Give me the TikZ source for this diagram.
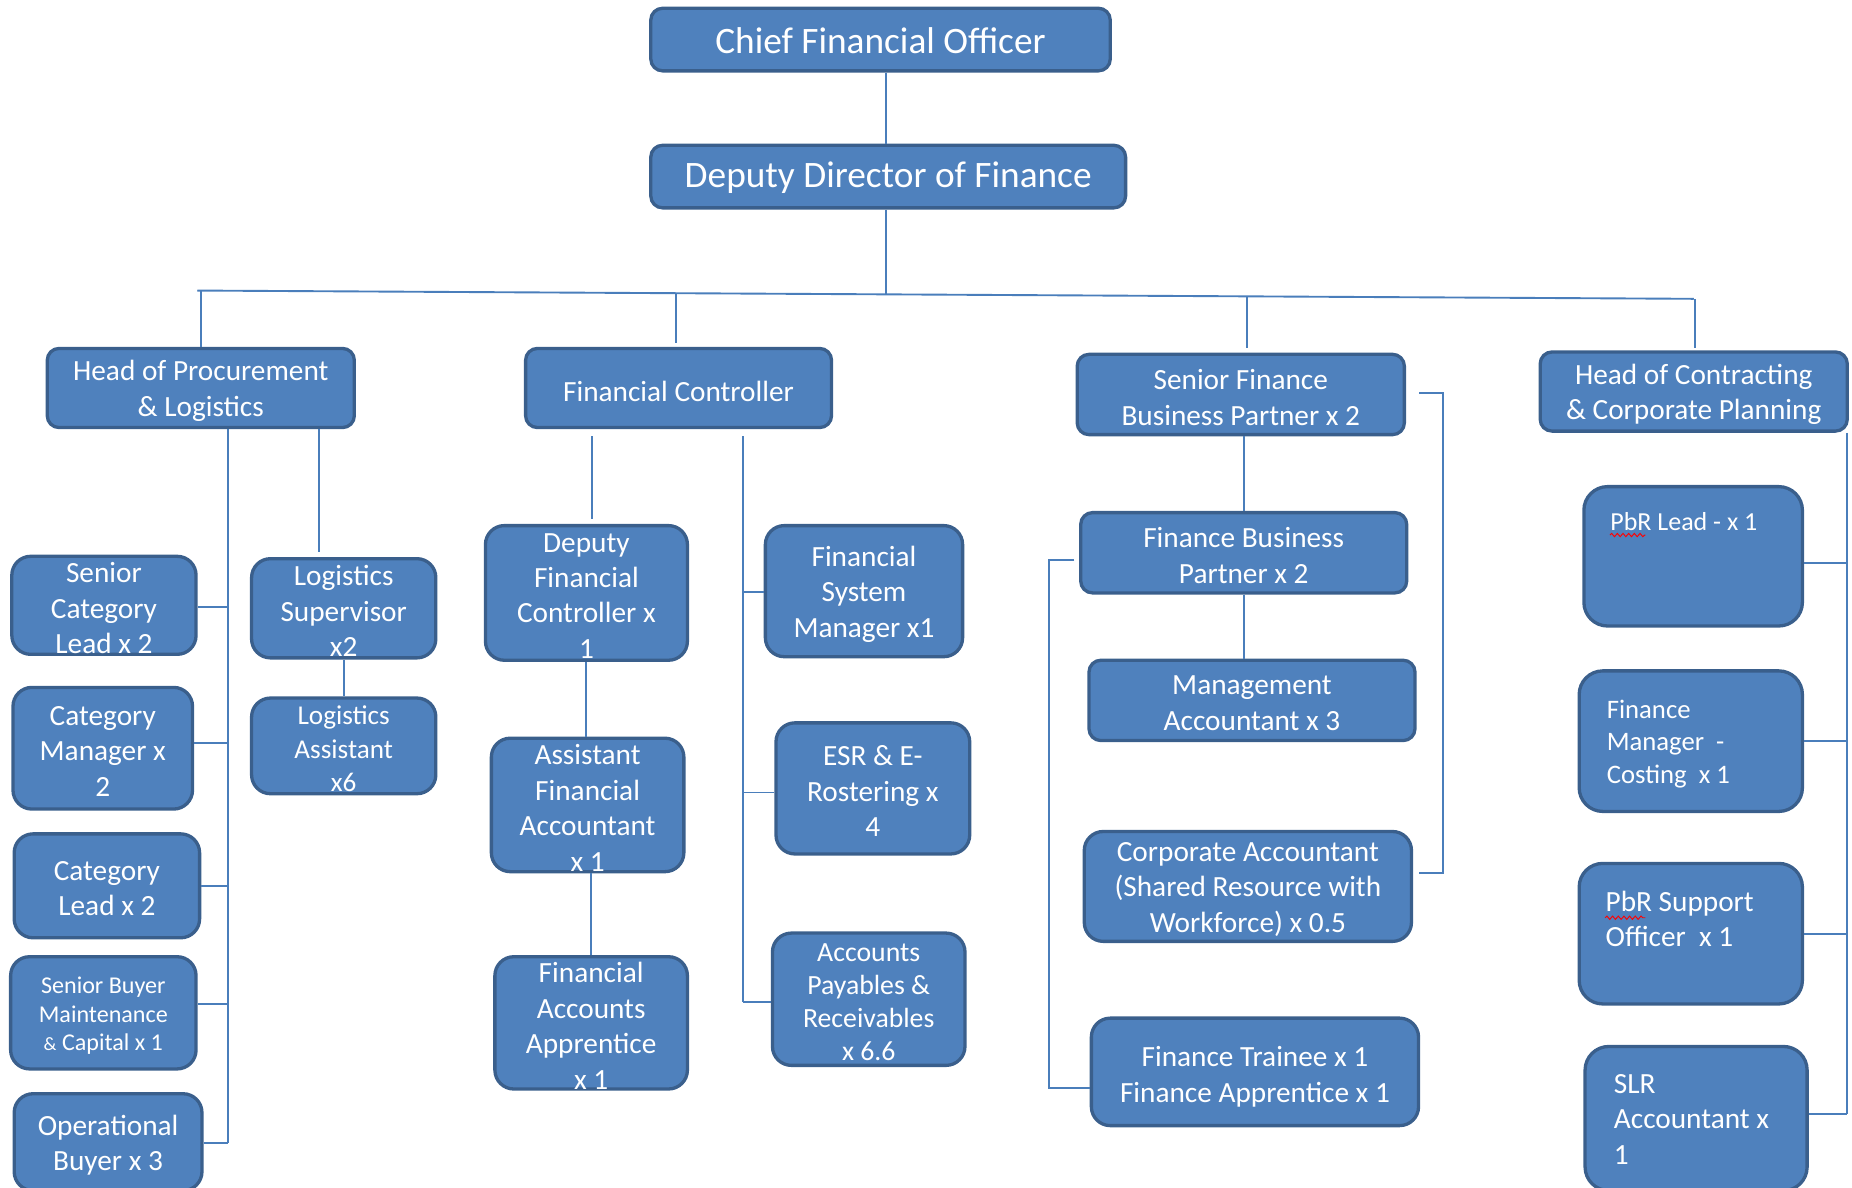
\documentclass[tikz,border=0pt]{standalone}
\usepackage{fontspec}
\setmainfont{Carlito}
\usetikzlibrary{fit,decorations.pathmorphing}
\definecolor{bfill}{HTML}{4F81BD}
\definecolor{bline}{HTML}{3A5F8C}
\definecolor{conn}{HTML}{4A7EBB}
\newcommand\obox[8]{%
  \node[obx,#2,fit={(#3,#4) (#5,#6)}] (#1) {};
  \node[otx,#7] (#1-t) at (#1.center) {#8};}
\begin{document}
\begin{tikzpicture}[x=0.5pt,y=-0.5pt,
  obx/.style={draw=bline, fill=bfill, line width=1.4pt, rounded corners=6pt, inner sep=0pt},
  otx/.style={text=white, inner sep=0pt, align=center, yshift=-1.25pt, font=\fontsize{12.4}{15}\selectfont},
  big/.style={font=\fontsize{15.8}{19}\selectfont, yshift=0.75pt},
  lft/.style={anchor=west, align=left},
  cn/.style={draw=conn, line width=0.8pt},
  r5/.style={rounded corners=5pt},
  r8/.style={rounded corners=8pt},
  r10/.style={rounded corners=10pt}]
\useasboundingbox (0,0) rectangle (1568,1005);
% top
\obox{cfo}{r5}{551}{7}{940}{60}{big}{Chief Financial Officer}
\obox{ddf}{r5}{551}{123}{953}{176}{big}{Deputy Director of Finance}
% heads
\obox{hp}{r5}{40}{295}{300}{362}{}{Head of Procurement\\\& Logistics}
\obox{fc}{r5}{445}{295}{704}{362}{}{Financial Controller}
\obox{sfbp}{r5}{912}{300}{1189}{368}{}{Senior Finance\\Business Partner x 2}
\obox{hc}{r5}{1304}{298}{1564}{365}{}{Head of Contracting\\\& Corporate Planning}
% procurement
\obox{scl}{r8}{10}{471}{166}{554}{}{Senior\\Category\\Lead x 2}
\obox{cm}{r8}{11}{582}{163}{685}{}{Category\\Manager x\\2}
\obox{cl}{r8}{12}{706}{169}{794}{}{Category\\Lead x 2}
\obox{sb}{r8}{9}{810}{166}{905}{font=\fontsize{10.2}{12}\selectfont}{Senior Buyer\\Maintenance\\{\fontsize{8}{12}\selectfont\&} Capital x 1}
\obox{opb}{r8}{12}{926}{171}{1008}{}{Operational\\Buyer x 3}
\obox{ls}{r8}{213}{473}{369}{557}{}{Logistics\\Supervisor\\x2}
\obox{la}{r8}{213}{591}{369}{672}{font=\fontsize{11.5}{14.25}\selectfont}{Logistics\\Assistant\\x6}
% financial controller
\obox{dfc}{r8}{411}{445}{582}{559}{}{Deputy\\Financial\\Controller x\\1}
\obox{afa}{r8}{416}{625}{579}{738}{}{Assistant\\Financial\\Accountant\\x 1}
\obox{faa}{r8}{419}{810}{582}{922}{}{Financial\\Accounts\\Apprentice\\x 1}
\obox{fsm}{r8}{648}{445}{815}{556}{}{Financial\\System\\Manager x1}
\obox{esr}{r8}{657}{612}{821}{723}{}{ESR \& E-\\Rostering x\\4}
\obox{ap}{r8}{654}{790}{817}{902}{font=\fontsize{11.75}{14}\selectfont}{Accounts\\Payables \&\\Receivables\\x 6.6}
% business partners
\obox{fbp}{r5}{915}{434}{1191}{502}{}{Finance Business\\Partner x 2}
\obox{ma}{r5}{922}{559}{1198}{627}{}{Management\\Accountant x 3}
\obox{ca}{r8}{918}{704}{1195}{797}{}{Corporate Accountant\\(Shared Resource with\\Workforce) x 0.5}
\obox{ft}{r8}{924}{862}{1201}{953}{yshift=-0.75pt}{Finance Trainee x 1\\Finance Apprentice x 1}
% contracting
\obox{pbr}{r10}{1341}{412}{1526}{530}{lft,xshift=-35.25pt,font=\fontsize{11}{13.75}\selectfont}{PbR Lead - x 1\\\strut\\\strut}
\obox{fmc}{r10}{1337}{568}{1526}{687}{lft,xshift=-35.75pt,font=\fontsize{11.3}{13.75}\selectfont}{Finance\\Manager\ \ -\\Costing\ \ x 1}
\obox{pbs}{r10}{1337}{731}{1526}{850}{lft,xshift=-36.25pt,yshift=-2.25pt}{PbR Support\\Officer\ \ x 1\\\strut}
\obox{slr}{r10}{1342}{886}{1530}{1008}{lft,xshift=-35pt,yshift=1pt}{SLR\\Accountant x\\1}
% spell-check underlines
\draw[red, line width=0.4pt, decorate, decoration={snake, amplitude=0.7pt, segment length=2.4pt}] (1363,453) -- (1393,453);
\draw[red, line width=0.4pt, decorate, decoration={snake, amplitude=0.7pt, segment length=2.4pt}] (1359,777) -- (1393,777);
% connectors top
\coordinate (sp) at (750,0);
\draw[cn] (cfo.south -| sp) -- (ddf.north -| sp);
\coordinate (busL) at (167,246);
\coordinate (busR) at (1434,253);
\draw[cn] (busL) -- (busR);
\coordinate (bd) at (750,249.2);
\draw[cn] (ddf.south -| sp) -- (bd);
\coordinate (b1) at (170,246);
\coordinate (b2) at (572,248.2);
\coordinate (b3) at (1056,250.9);
\coordinate (b4) at (1435,253);
\draw[cn] (b1) -- (b1 |- hp.north);
\draw[cn] (b2) -- ([yshift=1.5pt]b2 |- fc.north);
\draw[cn] (b3) -- ([yshift=2pt]b3 |- sfbp.north);
\draw[cn] (b4) -- ([yshift=1pt]b4 |- hc.north);
% procurement connectors
\coordinate (hpx) at (193,968);
\draw[cn] (hp.south -| hpx) -- (hpx);
\draw[cn] ([yshift=-0.75pt]scl.east) -- ([yshift=-0.75pt]scl.east -| hpx);
\draw[cn] ([yshift=2.25pt]cm.east) -- ([yshift=2.25pt]cm.east -| hpx);
\draw[cn] (cl.east) -- (cl.east -| hpx);
\draw[cn] ([yshift=3.75pt]sb.east) -- ([yshift=3.75pt]sb.east -| hpx);
\draw[cn] (opb.east |- hpx) -- (hpx);
\coordinate (lgx) at (270,467);
\draw[cn] (hp.south -| lgx) -- (lgx);
\draw[cn] (ls.south) -- (la.north);
% financial controller connectors
\coordinate (fcx) at (501,439);
\draw[cn] ([yshift=-3pt]fc.south -| fcx) -- (fcx);
\draw[cn] (dfc.south) -- (dfc.south |- afa.north);
\draw[cn] (afa.south -| faa.north) -- (faa.north);
\coordinate (fcr) at (629,848);
\draw[cn] ([yshift=-3pt]fc.south -| fcr) -- (fcr);
\draw[cn] ([yshift=-0.25pt]fsm.west) -- ([yshift=-0.25pt]fsm.west -| fcr);
\draw[cn] ([yshift=-1.75pt]esr.west) -- ([yshift=-1.75pt]esr.west -| fcr);
\draw[cn] (ap.west |- fcr) -- (fcr);
% business partner connectors
\draw[cn] (fbp.north) -- (fbp.north |- sfbp.south);
\draw[cn] (fbp.south) -- (fbp.south |- ma.north);
\coordinate (rbx) at (1222,0);
\draw[cn] ([xshift=5.5pt,yshift=0.5pt]sfbp.east) -- ([yshift=0.5pt]sfbp.east -| rbx) -- ([yshift=5.75pt]ca.east -| rbx) -- ([xshift=2.5pt,yshift=5.75pt]ca.east);
\coordinate (lbx) at (888,0);
\draw[cn] ([xshift=-2pt,yshift=-3pt]fbp.west) -- ([yshift=-3pt]fbp.west -| lbx) -- ([yshift=-6.75pt]ft.west -| lbx) -- ([yshift=-6.75pt]ft.west);
% contracting connectors
\coordinate (hcx) at (1564,943);
\draw[cn] (hc.south -| hcx) -- (hcx);
\draw[cn] ([yshift=-3pt]pbr.east) -- ([yshift=-3pt]pbr.east -| hcx);
\draw[cn] (fmc.east) -- (fmc.east -| hcx);
\draw[cn] (pbs.east) -- (pbs.east -| hcx);
\draw[cn] (slr.east |- hcx) -- (hcx);
\end{tikzpicture}
\end{document}
